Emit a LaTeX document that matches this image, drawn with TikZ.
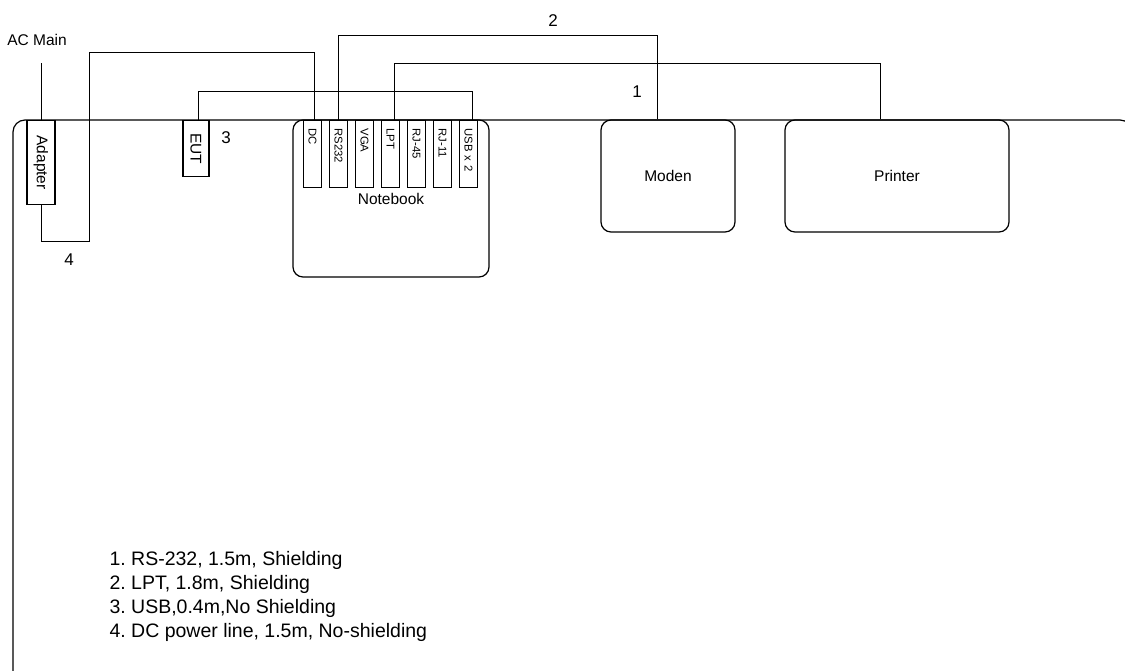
\documentclass[tikz,border=0pt]{standalone}
\usepackage{fontspec}
\setmainfont{Liberation Sans}
\frenchspacing

\begin{document}
\begin{tikzpicture}[x=1pt,y=-1pt]

  \tikzset{main node/.style={rectangle, draw, line width=1.2pt,
  		text centered, rounded corners=10pt, font=\fontsize{15.5}{18}\selectfont}, }
  \tikzset{side node/.style={rectangle, draw, line width=1.2pt, rotate=-90,
  		anchor=west, inner sep=0pt, font=\fontsize{15.5}{18}\selectfont}, }
  \tikzset{port node/.style={rectangle, draw, line width=1.2pt, rotate=-90,
  		anchor=west, minimum height=17.5pt, inner xsep=8pt, inner ysep=0pt,
  		text width=51pt, align=left, font=\fontsize{11.3}{13}\selectfont}, }
  \tikzset{cable/.style={line width=1pt}, }
  \tikzset{num/.style={font=\fontsize{17}{20}\selectfont}, }

  \useasboundingbox (0,0) rectangle (1125,671);
  \clip (0,0) rectangle (1125,671);

  % frame
  \draw[line width=1.2pt, rounded corners=12pt] (13,120) rectangle (1132,720);

  \node[side node, minimum width=84pt, minimum height=28pt] (adapter) at (41,120) {Adapter};
  \node[side node, minimum width=56pt, minimum height=26pt] (eut) at (196,120) {EUT};
  \node[main node, minimum width=196pt, minimum height=157pt] (notebook) at (391,198.5) {Notebook};
  \node[main node, minimum width=134pt, minimum height=112pt] (moden) at (668,176) {Moden};
  \node[main node, minimum width=224pt, minimum height=112pt] (printer) at (897,176) {Printer};
%
\foreach \p/\t [count=\i from 0] in {dc/DC, rs/RS232, vga/VGA, lpt/LPT, rja/RJ-45, rjb/RJ-11, usb/USB x 2}
  \node[port node] (\p) at (312.5+26*\i,120) {\t};
%
  \node[font=\fontsize{15.5}{18}\selectfont] (acmain) at (37,40) {AC Main};
  \coordinate (acend) at (41,63);
  \draw[cable] (adapter.west) -- (acend);
  \draw[cable] (adapter.east) -- ++(0,36) -| (89,53) -| ([xshift=2pt]dc.west);
  \draw[cable] ([xshift=2pt]eut.west) -- ++(0,-28) -| ([xshift=4pt]usb.west);
  \draw[cable] (rs.west) -- ++(0,-84) -| ([xshift=-11pt]moden.north);
  \draw[cable] ([xshift=4pt]lpt.west) -- ++(0,-56) -| ([xshift=-17pt]printer.north);
%
  \node[num] (n1) at (637,92) {1};
  \node[num] (n2) at (553,21) {2};
  \node[num] (n3) at (226,138) {3};
  \node[num] (n4) at (69,260) {4};
%
  \node[anchor=west, align=left, font=\fontsize{19.5}{23.7}\selectfont] (legend) at (106,596.5)
    {1. RS-232, 1.5m, Shielding\\2. LPT, 1.8m, Shielding\\3. USB,0.4m,No Shielding\\4. DC power line, 1.5m, No-shielding};
%
\end{tikzpicture}
\end{document}
